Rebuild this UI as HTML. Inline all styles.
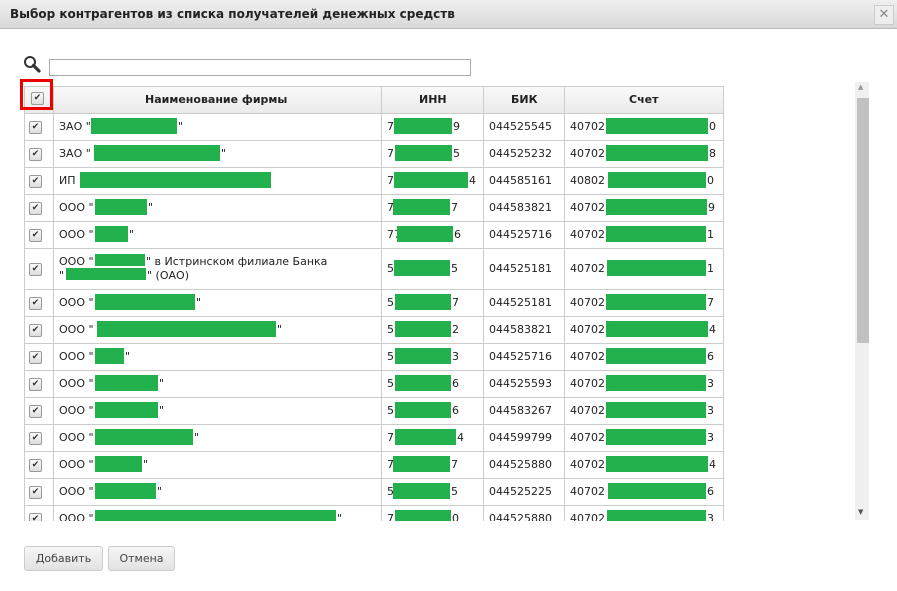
<!DOCTYPE html>
<html><head><meta charset="utf-8"><style>
body{margin:0;width:897px;height:591px;background:#fff;font-family:"DejaVu Sans","Liberation Sans",sans-serif;font-size:11px;color:#222;position:relative;overflow:hidden}
.a{position:absolute}
.g{position:absolute;background:#23b14d}
.t{position:absolute;white-space:nowrap;font-size:11px}
.cb{position:absolute;width:11px;height:11px;border:1px solid #999;border-radius:2px;background:linear-gradient(#fafafa,#ddd);font-size:9px;line-height:11px;text-align:center;color:#333}
.hl{position:absolute;left:24px;width:700px;height:1px;background:#ccc}
.vl{position:absolute;top:86px;width:1px;height:435px;background:#ccc}
.btn{position:absolute;top:546px;height:23px;border:1px solid #ccc;border-radius:3px;background:linear-gradient(#f6f6f6,#e2e2e2);font-size:11px;line-height:23px;text-align:center;color:#444}
</style></head><body>
<div class="a" style="left:0;top:0;width:897px;height:28px;background:linear-gradient(#f0f0f0,#d8d8d8);border-bottom:1px solid #bbb"></div>
<div class="t" style="left:10px;top:7px;font-weight:bold;font-size:12px;color:#222">Выбор контрагентов из списка получателей денежных средств</div>
<div class="a" style="left:874px;top:5px;width:18px;height:18px;border:1px solid #ccc;background:#eee;color:#888;font-size:13px;line-height:18px;text-align:center;font-weight:bold">✕</div>
<svg class="a" style="left:23px;top:55px" width="20" height="18"><circle cx="7" cy="7" r="5" fill="none" stroke="#333" stroke-width="2"/><line x1="10.5" y1="10.5" x2="16" y2="16" stroke="#333" stroke-width="3.2" stroke-linecap="round"/></svg>
<div class="a" style="left:49px;top:59px;width:420px;height:15px;border:1px solid #aaa"></div>
<div class="a" style="left:24px;top:86px;width:699px;height:27px;background:linear-gradient(#fafafa,#eaeaea)"></div>
<div class="t" style="left:145px;top:93px;font-weight:bold">Наименование фирмы</div>
<div class="t" style="left:419px;top:93px;font-weight:bold">ИНН</div>
<div class="t" style="left:511px;top:93px;font-weight:bold">БИК</div>
<div class="t" style="left:629px;top:93px;font-weight:bold">Счет</div>
<div class="vl" style="left:24px"></div><div class="vl" style="left:53px"></div><div class="vl" style="left:381px"></div><div class="vl" style="left:483px"></div><div class="vl" style="left:564px"></div><div class="vl" style="left:723px"></div>
<div class="hl" style="top:86px"></div>
<div class="cb" style="left:31px;top:92px">✔</div>
<div class="a" style="left:20px;top:79px;width:33px;height:31px;border:3px solid #e00;box-sizing:border-box"></div>
<div id="rows"></div>
<div class="a" style="left:855px;top:82px;width:14px;height:438px;background:#f0f0f0"></div>
<div class="a" style="left:857px;top:98px;width:12px;height:245px;background:#c1c1c1"></div>
<div class="t" style="left:858px;top:83px;font-size:7px;color:#999">▲</div>
<div class="t" style="left:858px;top:508px;font-size:7px;color:#555">▼</div>
<div class="btn" style="left:24px;width:77px">Добавить</div>
<div class="btn" style="left:108px;width:65px">Отмена</div>
<script>
var R=[
[113,27,'ЗАО "',91,177,'"',394,452,'7','9','044525545','40702',606,708,'0'],
[140,27,'ЗАО "',94,220,'"',395,452,'7','5','044525232','40702',606,708,'8'],
[167,27,'ИП ',80,271,'',394,468,'7','4','044585161','40802',608,706,'0'],
[194,27,'ООО "',95,147,'"',393,450,'7','7','044583821','40702',606,707,'9'],
[221,27,'ООО "',95,128,'"',397,453,'77','6','044525716','40702',606,706,'1'],
[248,41,'ООО "',95,145,'" в Истринском филиале Банка',394,450,'5','5','044525181','40702',607,706,'1'],
[289,27,'ООО "',95,195,'"',395,451,'5','7','044525181','40702',606,706,'7'],
[316,27,'ООО "',97,276,'"',395,451,'5','2','044583821','40702',606,708,'4'],
[343,27,'ООО "',95,124,'"',395,451,'5','3','044525716','40702',606,706,'6'],
[370,27,'ООО "',95,158,'"',395,451,'5','6','044525593','40702',606,706,'3'],
[397,27,'ООО "',95,158,'"',395,451,'5','6','044583267','40702',606,706,'3'],
[424,27,'ООО "',95,193,'"',395,456,'7','4','044599799','40702',606,706,'3'],
[451,27,'ООО "',95,142,'"',393,450,'7','7','044525880','40702',606,708,'4'],
[478,27,'ООО "',95,156,'"',393,450,'5','5','044525225','40702',608,706,'6'],
[505,27,'ООО "',95,336,'"',395,451,'7','0','044525880','40702',607,706,'3']];
var h='';
R.forEach(function(r){var y=r[0],hh=r[1],ty=y+Math.round(hh/2)-7,gy=y+Math.round(hh/2)-9;
h+='<div class="hl" style="top:'+y+'px"></div>';
h+='<div class="cb" style="left:29px;top:'+(ty+1)+'px">✔</div>';
if(hh>30){h+='<div class="t" style="left:59px;top:'+(y+7)+'px">'+r[2]+'</div><div class="g" style="left:'+r[3]+'px;top:'+(y+6)+'px;width:'+(r[4]-r[3])+'px;height:12px"></div><div class="t" style="left:'+(r[4]+1)+'px;top:'+(y+7)+'px">'+r[5]+'</div>';
h+='<div class="t" style="left:59px;top:'+(y+21)+'px">"</div><div class="g" style="left:66px;top:'+(y+20)+'px;width:80px;height:12px"></div><div class="t" style="left:147px;top:'+(y+21)+'px">" (ОАО)</div>';}
else{h+='<div class="t" style="left:59px;top:'+ty+'px">'+r[2]+'</div><div class="g" style="left:'+r[3]+'px;top:'+gy+'px;width:'+(r[4]-r[3])+'px;height:16px"></div><div class="t" style="left:'+(r[4]+1)+'px;top:'+ty+'px">'+r[5]+'</div>';}
h+='<div class="t" style="left:387px;top:'+ty+'px">'+r[8]+'</div><div class="t" style="left:'+(r[7]+1)+'px;top:'+ty+'px">'+r[9]+'</div><div class="g" style="left:'+r[6]+'px;top:'+gy+'px;width:'+(r[7]-r[6])+'px;height:16px"></div>';
h+='<div class="t" style="left:489px;top:'+ty+'px">'+r[10]+'</div>';
h+='<div class="t" style="left:570px;top:'+ty+'px">'+r[11]+'</div><div class="t" style="left:'+(r[13]+1)+'px;top:'+ty+'px">'+r[14]+'</div><div class="g" style="left:'+r[12]+'px;top:'+gy+'px;width:'+(r[13]-r[12])+'px;height:16px"></div>';});
h+='<div class="a" style="left:0;top:521px;width:850px;height:20px;background:#fff"></div>';
document.getElementById('rows').innerHTML=h;
</script>
</body></html>
